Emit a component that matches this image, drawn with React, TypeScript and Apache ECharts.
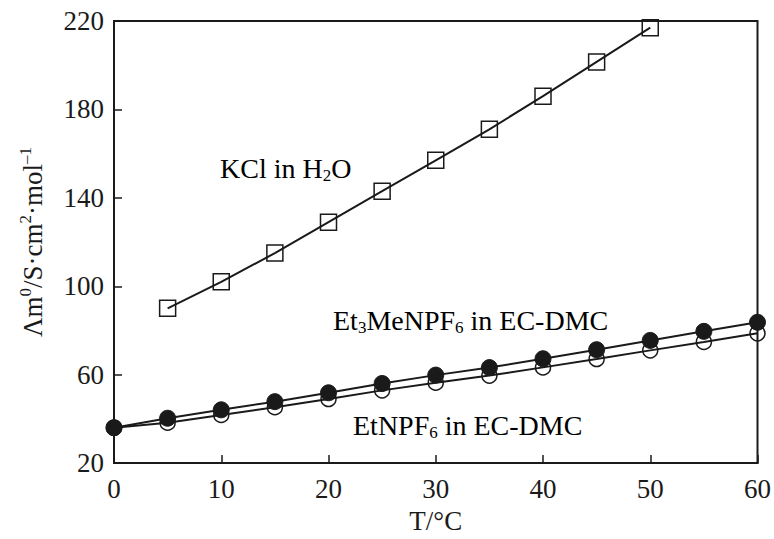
import React, { useEffect, useRef } from "react";
import * as echarts from "echarts";

const xMin = 0;
const xMax = 60;
const xStep = 10;
const yMin = 20;
const yMax = 220;
const yStep = 40;

const kclT = [5, 10, 15, 20, 25, 30, 35, 40, 45, 50];
const kclValues = [90, 102, 115, 129, 143, 157, 171, 186, 201.5, 217];

const saltT = [0, 5, 10, 15, 20, 25, 30, 35, 40, 45, 50, 55, 60];
const et3MeValues = [36, 40.3, 44.1, 47.8, 51.8, 56, 59.8, 63.2, 67.2, 71.3, 75.5, 79.6, 83.7];
const etValues = [36, 38.3, 41.8, 45.3, 49, 52.9, 56.4, 59.6, 63.3, 67.1, 71, 74.8, 78.7];

const FONT = "'Liberation Serif', 'DejaVu Serif', serif";
const INK = "#1a1a1a";

const pairs = (xs: number[], ys: number[]) => xs.map((x, i) => [x, ys[i]]);

const richText = (size: number) => ({
  n: { fontFamily: FONT, fontSize: size, color: INK, lineHeight: size + 4 },
  s: { fontFamily: FONT, fontSize: Math.round(size * 0.62), color: INK, lineHeight: 10, verticalAlign: "bottom" as const },
  p: { fontFamily: FONT, fontSize: Math.round(size * 0.62), color: INK, lineHeight: 10, verticalAlign: "top" as const },
});

export default function App() {
  const ref = useRef<HTMLDivElement>(null);
  useEffect(() => {
    if (!ref.current) return;
    const chart = echarts.init(ref.current, undefined, { renderer: "svg" });
    const axisLabel = { fontFamily: FONT, fontSize: 27, color: INK };
    chart.setOption({
      animation: false,
      backgroundColor: "#fff",
      grid: {
        left: 114,
        right: 12,
        top: 21,
        bottom: 72,
        show: true,
        borderColor: INK,
        borderWidth: 2,
        backgroundColor: "transparent",
      },
      xAxis: {
        type: "value",
        min: xMin,
        max: xMax,
        interval: xStep,
        name: "T/°C",
        nameLocation: "middle",
        nameGap: 41,
        nameTextStyle: { fontFamily: FONT, fontSize: 27, color: INK },
        axisLine: { lineStyle: { color: INK, width: 2 } },
        axisTick: { inside: true, length: 8, lineStyle: { color: INK, width: 1.5 } },
        axisLabel: { ...axisLabel, margin: 12 },
        splitLine: { show: false },
      },
      yAxis: {
        type: "value",
        min: yMin,
        max: yMax,
        interval: yStep,
        name: "{n|Λm}{p|0}{n|/S·cm}{p|2}{n|·mol}{p|–1}",
        nameLocation: "middle",
        nameGap: 66,
        nameTextStyle: { rich: richText(27) },
        axisLine: { lineStyle: { color: INK, width: 2 } },
        axisTick: { inside: true, length: 8, lineStyle: { color: INK, width: 1.5 } },
        axisLabel: { ...axisLabel, margin: 10 },
        splitLine: { show: false },
      },
      graphic: [
        {
          type: "text",
          x: 220,
          y: 168,
          style: { text: "{n|KCl in H}{s|2}{n|O}", rich: richText(28), verticalAlign: "middle", align: "left" },
        },
        {
          type: "text",
          x: 333,
          y: 320,
          style: { text: "{n|Et}{s|3}{n|MeNPF}{s|6}{n| in EC-DMC}", rich: richText(28), verticalAlign: "middle", align: "left" },
        },
        {
          type: "text",
          x: 353,
          y: 425,
          style: { text: "{n|EtNPF}{s|6}{n| in EC-DMC}", rich: richText(28), verticalAlign: "middle", align: "left" },
        },
      ],
      series: [
        {
          name: "KCl in H2O",
          type: "line",
          data: pairs(kclT, kclValues),
          symbol: "rect",
          symbolSize: 16,
          lineStyle: { color: INK, width: 2 },
          itemStyle: { color: "rgba(255,255,255,0)", borderColor: INK, borderWidth: 1.5 },
          z: 3,
        },
        {
          name: "EtNPF6 in EC-DMC",
          type: "line",
          data: pairs(saltT, etValues),
          symbol: "circle",
          symbolSize: 15,
          lineStyle: { color: INK, width: 2 },
          itemStyle: { color: "rgba(255,255,255,0)", borderColor: INK, borderWidth: 1.5 },
          z: 3,
        },
        {
          name: "Et3MeNPF6 in EC-DMC",
          type: "line",
          data: pairs(saltT, et3MeValues),
          symbol: "circle",
          symbolSize: 16,
          lineStyle: { color: INK, width: 2 },
          itemStyle: { color: INK, borderColor: INK, borderWidth: 1 },
          z: 4,
        },
      ],
    });
    return () => chart.dispose();
  }, []);
  return <div ref={ref} style={{ width: 774, height: 539, position: "absolute", left: 0, top: 0 }} />;
}
